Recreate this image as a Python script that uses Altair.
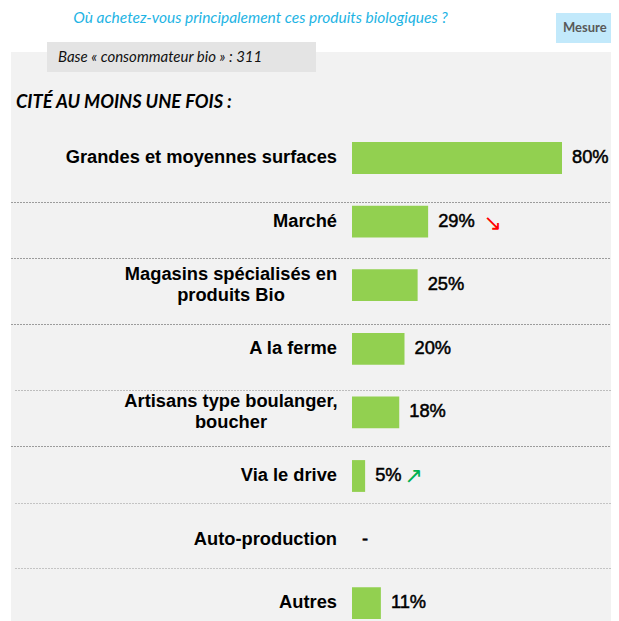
import altair as alt
import pandas as pd

# ---- data ----
categories = [
    "Grandes et moyennes surfaces",
    "Marché",
    "Magasins spécialisés en\nproduits Bio",
    "A la ferme",
    "Artisans type boulanger,\nboucher",
    "Via le drive",
    "Auto-production",
    "Autres",
]
values = [80, 29, 25, 20, 18, 5, 0, 11]
value_labels = ["80%", "29%", "25%", "20%", "18%", "5%", "-", "11%"]
trends = ["", "down", "", "", "", "up", "", ""]

title_text = "Où achetez-vous principalement ces produits biologiques ?"
base_text = "Base « consommateur bio » : 311"
section_text = "CITÉ AU MOINS UNE FOIS :"
mesure_text = "Mesure"

df = pd.DataFrame({
    "cat": categories,
    "value": values,
    "label": value_labels,
    "trend": trends,
    "multi": ["\n" in c for c in categories],
})
one = pd.DataFrame({"a": [0]})

W, H = 603, 613

xs = alt.Scale(domain=[0, 80], range=[344, 554], nice=False, zero=True)
ys = alt.Scale(domain=categories, range=[118.2, 627], paddingInner=0.5, paddingOuter=0.25)
X = alt.X("value:Q", scale=xs, axis=None)
Y = alt.Y("cat:N", scale=ys, axis=None, sort=categories)

LABEL_FONT = "Liberation Sans"

panel = alt.Chart(one).mark_rect(color="#f2f2f2").encode(
    x=alt.value(3), x2=alt.value(W), y=alt.value(44), y2=alt.value(H))
base_box = alt.Chart(one).mark_rect(color="#e4e4e4").encode(
    x=alt.value(39), x2=alt.value(308), y=alt.value(34), y2=alt.value(64))
mesure_box = alt.Chart(one).mark_rect(color="#c2e9fb").encode(
    x=alt.value(548), x2=alt.value(W), y=alt.value(5), y2=alt.value(35))

title = alt.Chart(one).mark_text(
    text=title_text, font="Lato", fontStyle="italic", fontSize=15.5,
    color="#1eb4e4", align="center", baseline="middle").encode(
    x=alt.value(252.5), y=alt.value(10))
base = alt.Chart(one).mark_text(
    text=base_text, font="Lato", fontStyle="italic", fontSize=15,
    color="#111111", align="left", baseline="middle").encode(
    x=alt.value(50), y=alt.value(49))
mesure = alt.Chart(one).mark_text(
    text=mesure_text, font="Lato", fontWeight="bold", fontSize=13,
    color="#595959", align="left", baseline="middle").encode(
    x=alt.value(555), y=alt.value(20))
section = alt.Chart(one).mark_text(
    text=section_text, font="Lato", fontStyle="italic", fontWeight="bold", fontSize=18.3,
    color="#000000", align="left", baseline="middle").encode(
    x=alt.value(8), y=alt.value(95))

sep_layers = []
for yy, x0, col in [(194, 3, "#9c9c9c"), (250, 3, "#9c9c9c"), (316, 3, "#9c9c9c"),
                    (382, 7, "#bdbdbd"), (438, 3, "#9c9c9c"), (495, 7, "#c4c4c4"),
                    (560, 7, "#c4c4c4")]:
    sep_layers.append(
        alt.Chart(one).mark_rule(color=col, strokeWidth=1, strokeDash=[2, 1]).encode(
            x=alt.value(x0), x2=alt.value(W), y=alt.value(yy + 0.5)))

bars = alt.Chart(df).mark_bar(color="#92d050").encode(x=X, y=Y)

labels_single = alt.Chart(df).transform_filter("!datum.multi").mark_text(
    font=LABEL_FONT, fontWeight="bold", fontSize=18.3, color="#000000",
    align="right", baseline="middle").encode(
    x=alt.value(329), y=Y, text="cat:N")
labels_multi = alt.Chart(df).transform_filter("datum.multi").mark_text(
    font=LABEL_FONT, fontWeight="bold", fontSize=18.3, color="#000000",
    align="center", baseline="middle", lineBreak="\n", lineHeight=21, dy=-10.5).encode(
    x=alt.value(223), y=Y, text="cat:N")

vals = alt.Chart(df).mark_text(
    font=LABEL_FONT, fontWeight="normal", fontSize=18.3, color="#000000",
    stroke="#000000", strokeWidth=0.5,
    align="left", baseline="middle", dx=10).encode(x=X, y=Y, text="label:N")

down = alt.Chart(df).transform_filter("datum.trend == 'down'").mark_text(
    text="↘", font="DejaVu Sans", fontSize=22, color="#ff0000",
    align="left", baseline="middle", dx=55, dy=1).encode(x=X, y=Y)
up = alt.Chart(df).transform_filter("datum.trend == 'up'").mark_text(
    text="↗", font="DejaVu Sans", fontSize=22, color="#00b050",
    align="left", baseline="middle", dx=39, dy=0).encode(x=X, y=Y)

chart = alt.layer(
    panel, mesure_box, base_box, title, base, mesure, section,
    *sep_layers, bars, labels_single, labels_multi, vals, down, up
).properties(
    width=W, height=H, autosize=alt.AutoSizeParams(type="none"), padding=0,
    background="#ffffff"
).configure_view(stroke=None)

chart.save("out.html", embed_options={"renderer": "svg", "actions": False})
